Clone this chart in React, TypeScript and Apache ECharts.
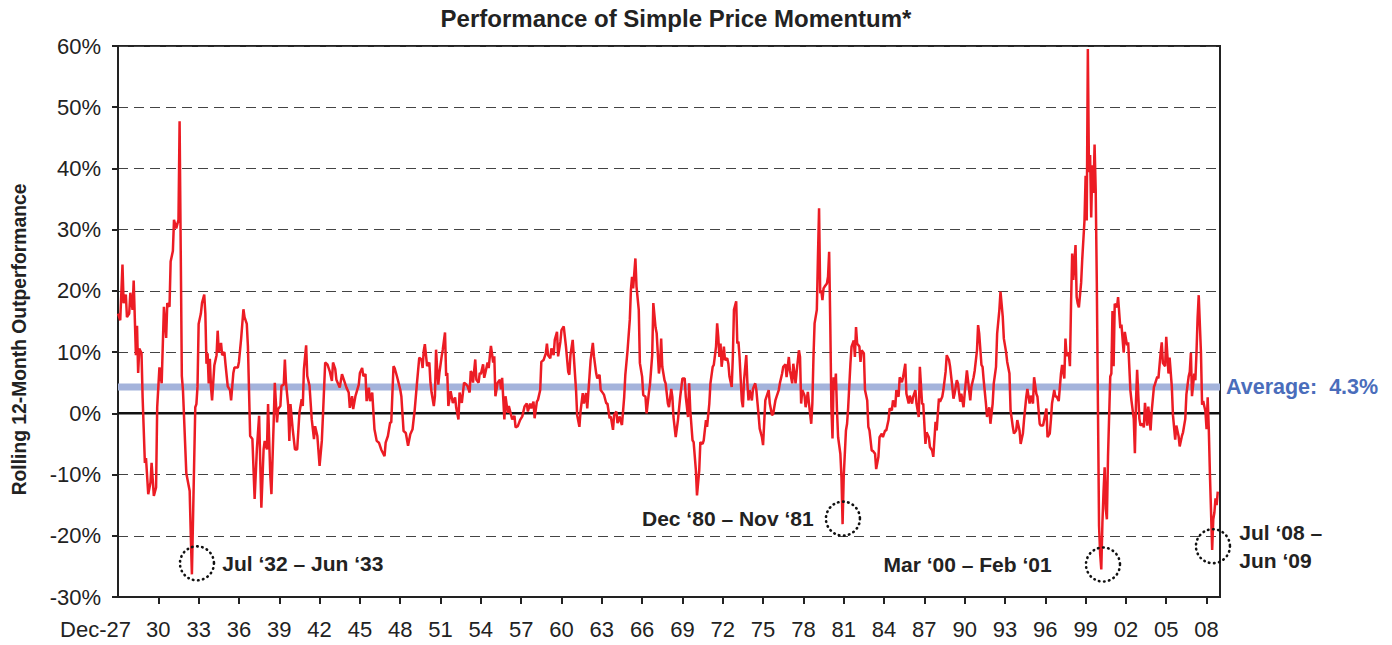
import React, { useEffect, useRef } from 'react';
import * as echarts from 'echarts';

// Months since Dec-1927, rolling 12-month outperformance (%)
const era1928to1937: [number, number][] = [
  [0,16.3],[2,15.2],[4,24.3],[5,18],[7,19.4],[8,15.7],[10,16.3],[11,19.7],[13,16.9],[14,21.7],[16,9.5],[17,14.3],[18,6.6],[19,10.6],[21,9.8],[22,2.5],[24,-8.1],[25,-7.3],[27,-13.2],[29,-11.3],[30,-8.1],[32,-13.5],[34,-12.1],[35,1],[37,7.5],[39,4.9],[41,17.4],[43,12.3],[44,18],[46,17.4],[47,24.8],[49,26.5],[50,31.6],[52,30.2],[54,31.6],[55,47.7],[57,6.1],[58,3.8],[61,-9.8],[64,-12.7],[65,-20],[66,-26.3],[69,1],[70,1.5],[71,4.4],[72,14.6],[74,16.3],[75,18],[77,19.4],[78,16.3],[79,8.1],[80,9.8],[81,4.9],[82,8.9],[83,4.4],[84,2.1],[86,7.8],[88,9.5],[89,13.5],[90,10],[92,11.5],[93,9.5],[95,10],[96,8],[98,4.4],[100,3.8],[101,2.1],[103,6.6],[104,7.5],[107,7.5],[108,8.4],[110,12.3],[112,17],[113,15.7],[115,14.6],[116,11]
];
const era1937to1947: [number, number][] = [
  [118,-3.7],[120,-4.2],[122,-14],[124,-5.9],[126,-0.4],[128,-15.4],[130,-5.9],[131,-4.5],[133,-5.9],[134,1.5],[136,-10.2],[137,-13.2],[139,-1.5],[140,5],[142,-1.5],[143,0.7],[145,1.2],[146,4.5],[148,4.7],[149,8.8],[150,5],[152,1.2],[153,-4.5],[154,1.5],[156,-2.6],[158,-5.9],[160,-5.9],[162,0.1],[164,2.3],[165,1.2],[166,7.2],[168,11.1],[169,6.1],[171,4.5],[173,-1],[175,-4.2],[176,-2.1],[178,-3.7],[180,-8.6],[182,-4.5],[183,-0.4],[185,8.3],[187,8],[189,6.9],[191,5.3],[192,8.3],[194,7.2],[195,5.5],[198,4.2],[200,6.4],[202,5.3],[204,4.2],[206,3.4],[207,0.9],[209,2.8],[210,0.7],[212,2.8],[215,4.7],[216,6.6],[218,7.4],[219,6.1],[221,6.4],[222,2],[224,4.2],[225,2],[227,3.4],[229,-2.6],[231,-4.5],[233,-4.8],[235,-5.9],[238,-7]
];
const era1947to1957: [number, number][] = [
  [239,-4.8],[241,-3.7],[243,-1.5],[244,-1.5],[246,7.7],[247,7.4],[249,6.1],[252,3.9],[253,2.8],[255,-2.9],[257,-3.2],[259,-5.3],[261,-3.4],[263,-2.6],[265,0.7],[267,5],[269,9.1],[271,8.8],[272,7.4],[273,10.2],[274,11.3],[276,7.7],[278,8.3],[279,5],[280,3.4],[282,1.2],[283,2.8],[284,10.4],[285,7.2],[286,4.7],[287,6.6],[289,9.3],[290,10.4],[292,13.2],[293,6.1],[294,6.6],[295,1.2],[297,3.6],[299,1.7],[301,2.6],[302,0.9],[304,-1],[305,3.4],[307,1.7],[309,5],[311,4.7],[312,4.5],[314,3.4],[315,6.9],[316,6.6],[317,5],[319,8.8],[320,5.5],[322,5],[323,6.6],[324,6.4],[326,8],[327,5.8],[328,6.6],[330,8.3],[331,7.4],[332,9.3],[333,11],[335,8.3],[336,9.3],[337,2.8],[339,5],[341,5.5],[342,3.9],[343,5.8],[345,-1],[346,2.8],[348,0.1],[349,1.2],[352,-1],[354,-0.4],[355,-2.3],[357,-2.1]
];
const era1957to1967: [number, number][] = [
  [359,-1.1],[361,-0.5],[363,1.1],[365,1.6],[366,0.3],[368,1.6],[369,0.8],[371,1.9],[372,-0.8],[374,1.9],[375,2.2],[377,3.8],[378,8.4],[380,8.7],[382,9.8],[383,11.4],[384,9.5],[386,9],[387,10.6],[389,9.5],[390,12],[392,13.3],[393,9.3],[395,11.7],[396,13.6],[398,14.2],[400,10.9],[402,6.8],[403,6.3],[404,9.5],[406,12],[407,9.3],[409,3.8],[410,-0.3],[412,-2.2],[413,0.3],[415,3.3],[416,1.6],[418,3.3],[419,0.8],[421,6],[422,8.7],[424,11.5],[425,9.3],[427,6.5],[428,5.7],[430,6.3],[431,3.8],[433,3.3],[434,3],[436,1.6],[437,1.6],[439,-0.8],[440,-0.5],[442,-2.7],[443,-0.3],[445,0.3],[446,-1.6],[448,-0.5],[449,-1.4],[450,-1.9],[452,2.7],[453,6.3],[455,10.3],[457,15.3],[458,20.2],[459,22.3],[460,20.4],[462,25.3],[463,20.7],[465,16.9],[466,8.2],[468,6],[469,3],[471,2.7],[472,0],[474,3.3],[475,4.7]
];
const era1967to1977: [number, number][] = [
  [477,9.5],[478,18],[480,14],[481,13.1],[483,6.5],[484,8.1],[485,12.2],[486,7.6],[488,5.4],[489,4.9],[491,1.6],[492,1],[494,4],[495,2.7],[496,-0.6],[498,-3.9],[500,-1.1],[502,2.7],[504,5.7],[506,5.7],[507,2.7],[509,-0.6],[510,4.9],[511,0.5],[513,-4.4],[514,-4.7],[516,-9.3],[517,-13.4],[519,-9.3],[520,-4.7],[522,-5],[523,-4.4],[525,-1.1],[526,-2.2],[528,1.6],[529,4.9],[531,7.6],[532,7.9],[534,10.9],[535,14.7],[536,12.5],[537,9.2],[538,11.4],[539,7.6],[541,10.9],[542,8.7],[544,9],[545,8.1],[546,6],[548,4.3],[549,9.2],[550,16.9],[552,18.3],[553,11.4],[554,11.7],[555,9.2],[557,2.1],[558,1],[559,5.4],[561,9.5],[562,4.9],[563,2.1],[564,3.8],[566,2.1],[567,4],[569,4.9],[570,3.8],[572,-0.3],[573,-2.5],[575,-3.9],[576,-5.2],[578,2.1],[579,2.7],[581,3.8],[582,1.6],[584,-0.3],[585,-0.1],[587,2.1],[588,2.7],[590,3.8],[591,4.9],[593,6.5],[594,7.6],[596,8]
];
const era1977to1987: [number, number][] = [
  [597,5.9],[599,9.2],[600,7],[602,4.9],[603,8.1],[605,4.9],[606,6.8],[608,10.3],[609,9.2],[610,1.6],[611,3.8],[613,2.9],[614,1],[616,3.5],[617,1.6],[619,-1.7],[620,1.6],[621,9.2],[622,14.7],[624,16.9],[625,25.6],[626,33.5],[627,19.6],[628,20.1],[629,18.5],[630,20.4],[631,20.7],[633,21.2],[634,22.3],[635,26.4],[636,14.7],[637,1],[638,-4.1],[639,5.9],[640,3.8],[641,6.5],[642,0.5],[643,-3.9],[645,-6.6],[646,-10.4],[647,-18.1],[648,-10.4],[650,-2.8],[651,-1.7],[652,1],[654,8.1],[655,10.9],[657,11.9],[658,9.2],[659,14.1],[660,11.4],[662,10.9],[663,8.4],[664,10.3],[666,9.8],[667,3.8],[669,2.1],[670,-2.2],[671,-2.8],[673,-6.1],[674,-6.1],[676,-6.6],[677,-9.1],[679,-7.1],[680,-3.9],[682,-3.3],[683,-3.9],[685,-2.8],[686,-2.8],[688,-1.1],[689,0.8],[691,0.5],[692,2.1],[694,1],[695,3.8],[697,2.7],[698,5.9],[700,5.1],[701,5.9],[703,8.1],[704,3.2],[706,1.6],[707,2.9],[709,1.6],[710,2.7],[712,3.8],[713,1.6],[715,-0.6],[716,7.6]
];
const era1987to1997: [number, number][] = [
  [718,1.5],[719,1.6],[721,-5],[722,-3.1],[724,-3.9],[725,-5.5],[727,-6.1],[728,-7.1],[730,-1.4],[731,-2.8],[733,2.4],[734,1.9],[736,2.7],[737,3.8],[739,6.8],[740,9.5],[742,8.7],[743,7.6],[745,4.3],[746,2.4],[747,3.2],[749,5.4],[750,4.9],[752,1.9],[753,3.2],[755,1],[756,3.2],[758,7],[759,5.4],[761,2.1],[762,4.3],[764,5.9],[765,7],[767,10.3],[768,14.4],[769,13],[771,7.9],[772,7.6],[773,5.4],[775,1.6],[776,-0.6],[778,1],[779,-1.7],[781,1.6],[782,4.9],[784,7.6],[785,13],[787,16.9],[788,19.9],[790,15.8],[791,12.2],[793,10],[794,8.4],[796,6.5],[797,0.5],[799,-2.2],[800,-3.3],[802,-2.8],[803,-1.1],[805,-2.8],[806,-5],[808,-3.3],[809,-1.1],[811,2.7],[812,4],[814,1.6],[815,2.9],[817,1.6],[818,5.9],[820,3.2],[821,2.7],[823,-1.7],[824,-2],[826,-2],[827,-1.1],[829,0.8],[830,-3.9],[832,-3.3],[833,-1.1],[834,1.6],[836,3.8],[837,2.7]
];
const era1997to2009: [number, number][] = [
  [838,2.8],[840,2],[842,6.5],[843,7.9],[845,5.7],[846,12.2],[847,9.4],[849,9.9],[850,7.7],[851,17.9],[852,26.1],[853,21.8],[855,27.5],[856,19],[857,17.9],[858,17.3],[860,21.3],[861,25.2],[863,31.5],[864,38.8],[865,31.5],[866,59.5],[867,39.4],[868,42.2],[869,32],[870,40.5],[871,36],[872,43.9],[873,36.6],[874,21.3],[875,1.4],[876,-18.4],[877,-23],[878,-25.5],[879,-17.9],[880,-12.8],[881,-8.8],[882,-15.6],[883,-17.3],[884,-7.1],[886,6],[887,6.5],[888,16.7],[889,7.7],[890,17.9],[892,17.3],[893,19],[895,13.9],[896,14.5],[898,9.9],[899,13.3],[901,11.1],[902,11.6],[904,3.7],[905,2],[907,-0.9],[908,-6.5],[909,2],[910,7.1],[912,-0.9],[913,-2],[915,-1.7],[916,-2.3],[917,1.7],[919,-2],[920,1.1],[922,-2.8],[923,0.3],[925,4.3],[926,4.8],[928,6],[929,5.7],[931,9.9],[932,11.6],[933,8.2],[935,7.7],[936,12.5],[938,6.5],[939,9.1],[941,4.3],[942,-0.3],[944,-4.3],[945,-2],[947,-3.7],[948,-5.4],[950,-3.7],[951,-3.1],[953,-0.9],[954,3.1],[956,6],[957,6.8],[958,9.9],[959,2.8],[961,6.5],[962,5.4],[963,9.9],[964,15.6],[965,19.3],[967,9.9],[968,1.4],[969,2],[971,0.3],[972,-2.6],[973,2.6],[974,-2.6],[975,-9.9],[977,-22.3],[978,-17.3],[979,-16.2],[980,-13.9],[981,-15],[982,-12.8]
];

const xTickLabels = ['Dec-27','30','33','36','39','42','45','48','51','54','57','60','63','66','69','72','75','78','81','84','87','90','93','96','99','02','05','08'];
const averageOutperformance = 4.3;
const annotationTexts = ['Jul \u201832 \u2013 Jun \u201833', 'Dec \u201880 \u2013 Nov \u201881', 'Mar \u201800 \u2013 Feb \u201801', 'Jul \u201808 \u2013\nJun \u201809'];
const annotationAnchors: [number, number][] = [[70.5, -24.5], [647.3, -17.2], [879.5, -24.7], [977.7, -21.7]];
const annotationSides = ['right', 'left', 'left', 'right'];
const annotationGaps = [7, 11, 33, 8];

const FONT = '"Liberation Sans", Arial, Helvetica, sans-serif';
const X_MAX = 984;
const Y_MIN = -30;
const LABEL_MARGIN = 21;

export default function App() {
  const ref = useRef<HTMLDivElement>(null);
  useEffect(() => {
    const chart = echarts.init(ref.current as HTMLDivElement, undefined, { renderer: 'svg' });
    const momentum = [
      ...era1928to1937, ...era1937to1947, ...era1947to1957, ...era1957to1967,
      ...era1967to1977, ...era1977to1987, ...era1987to1997, ...era1997to2009,
    ];
    const marks = annotationAnchors.map((c, i) => ({
      coord: c,
      label: {
        show: true,
        position: annotationSides[i],
        distance: annotationGaps[i],
        formatter: annotationTexts[i],
        align: annotationSides[i] === 'left' ? 'right' : 'left',
      },
    }));
    const option: any = {
      animation: false,
      backgroundColor: '#ffffff',
      title: {
        text: 'Performance of Simple Price Momentum*',
        left: 671,
        top: 1,
        textAlign: 'center',
        textStyle: { fontFamily: FONT, fontSize: 24, fontWeight: 'bold', color: '#222' },
      },
      grid: { left: 118, right: 172, top: 46, bottom: 48, show: true, borderColor: '#222', borderWidth: 2, backgroundColor: 'transparent' },
      xAxis: {
        type: 'value',
        min: 0,
        max: X_MAX,
        interval: 36,
        axisLine: { show: true, onZero: false, lineStyle: { color: '#222', width: 2 } },
        axisTick: { show: true, length: 7, lineStyle: { color: '#222', width: 2 } },
        splitLine: { show: false },
        axisLabel: {
          margin: LABEL_MARGIN,
          fontSize: 22,
          color: '#222',
          fontFamily: FONT,
          showMinLabel: false,
          showMaxLabel: false,
          formatter: (v: number) => {
            if (v % 36 !== 0) return '';
            const i = Math.round(v / 36);
            if (i === 0) return '';
            return xTickLabels[i] || '';
          },
        },
      },
      yAxis: {
        type: 'value',
        min: Y_MIN,
        max: 60,
        interval: 10,
        name: 'Rolling 12-Month Outperformance',
        nameLocation: 'middle',
        nameGap: 89,
        nameTextStyle: { fontFamily: FONT, fontSize: 19.3, fontWeight: 'bold', color: '#222', padding: [0, 36, 0, 0] },
        axisLine: { show: true, onZero: false, lineStyle: { color: '#222', width: 2 } },
        axisTick: { show: true, length: 6, lineStyle: { color: '#222', width: 2 } },
        axisLabel: { margin: 17, fontSize: 22, color: '#222', fontFamily: FONT, formatter: '{value}%' },
        splitLine: { show: true, lineStyle: { color: '#444', width: 1, type: [10, 6] } },
      },
      series: [
        {
          name: 'Average',
          type: 'line',
          data: [[0, averageOutperformance], [X_MAX, averageOutperformance]],
          symbol: 'none',
          silent: true,
          z: 1,
          lineStyle: { color: '#a4b3db', width: 7 },
          endLabel: {
            show: true,
            distance: 6,
            formatter: 'Average:  ' + averageOutperformance.toFixed(1) + '%',
            color: '#4a6dbb',
            fontFamily: FONT,
            fontSize: 21.5,
            fontWeight: 'bold',
          },
        },
        {
          name: 'Zero',
          type: 'line',
          data: [[0, 0], [X_MAX, 0]],
          symbol: 'none',
          silent: true,
          z: 2,
          lineStyle: { color: '#111', width: 2.5 },
        },
        {
          name: 'Momentum',
          type: 'line',
          data: momentum,
          symbol: 'none',
          showSymbol: false,
          z: 4,
          lineStyle: { color: '#ec1c24', width: 2.5 },
          markPoint: {
            symbol: 'circle',
            symbolSize: 34,
            silent: true,
            itemStyle: { color: 'rgba(0,0,0,0)', borderColor: '#111', borderWidth: 2.6, borderType: [0.5, 4.5], borderCap: 'round' },
            label: { show: true, color: '#222', fontFamily: FONT, fontSize: 21, fontWeight: 'bold', lineHeight: 28 },
            data: marks,
          },
        },
      ],
    };
    chart.setOption(option);
    // First tick label: "27" sits under the tick, "Dec-" extends to its left
    const px = chart.convertToPixel({ xAxisIndex: 0 }, 0) as number;
    const py = chart.convertToPixel({ yAxisIndex: 0 }, Y_MIN) as number;
    chart.setOption({
      graphic: [
        {
          type: 'text',
          x: px + 13,
          y: py + LABEL_MARGIN,
          silent: true,
          style: {
            text: xTickLabels[0],
            fill: '#222',
            fontFamily: FONT,
            fontSize: 22,
            align: 'right',
            verticalAlign: 'top',
          },
        },
      ],
    });
    return () => chart.dispose();
  }, []);
  return <div ref={ref} style={{ position: 'absolute', left: 0, top: 0, width: 1392, height: 645, background: '#fff' }} />;
}
